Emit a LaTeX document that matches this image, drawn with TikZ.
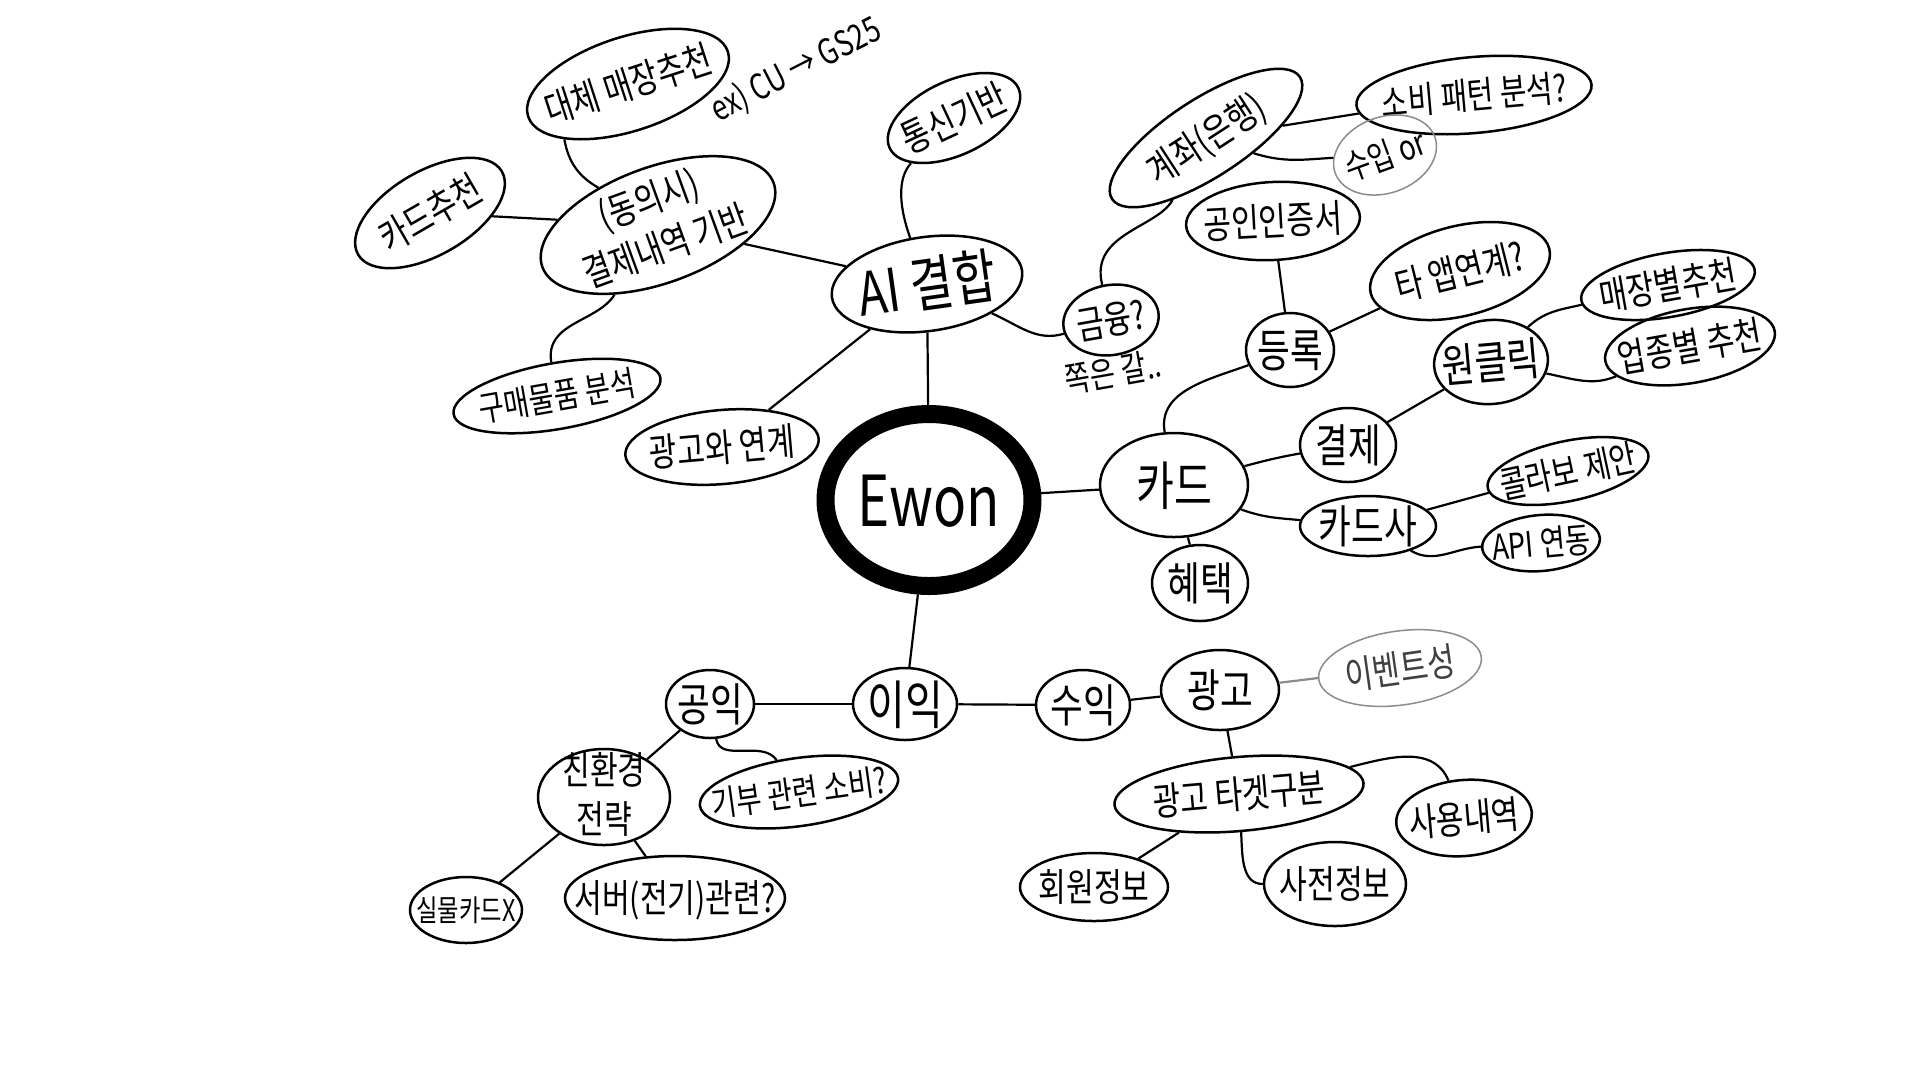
\documentclass[tikz,border=0pt]{standalone}
\usepackage{fontspec}
\newfontfamily\hand[FakeStretch=0.78]{Noto Sans CJK KR}
\usetikzlibrary{shapes.geometric}
% text that does not widen its bubble
\newcommand\inbub[1]{\makebox[0pt]{\raisebox{-.38em}[0pt][0pt]{#1}}}
\newcommand\inbubb[1]{\makebox[0pt]{\raisebox{-.3em}[0pt][0pt]{\begin{tabular}{@{}c@{}}#1\end{tabular}}}}
\tikzset{
  bub/.style  = {draw, ellipse, line width=0.25mm, inner sep=0pt,
                 font=\hand\fontsize{11}{14}\selectfont},
  sz/.style 2 args = {minimum width=#1mm, minimum height=#2mm},
  fs/.style   = {font=\hand\fontsize{#1}{#1}\selectfont},
  pale/.style = {draw=black!45, line width=0.15mm},
  note/.style = {font=\hand\fontsize{10}{10}\selectfont, inner sep=0pt},
  ln/.style   = {line width=0.22mm},
}
\begin{document}
\begin{tikzpicture}[x=0.1mm, y=0.1mm]
\fill[white] (0,0) rectangle (1920,-1080);
\useasboundingbox (0,0) rectangle (1920,-1080);

% centre
\node[bub, line width=1.8mm, sz={20.7}{17.2}, fs=20] (ewon) at (929,-500) {\inbub{Ewon}};

% AI branch
\node[bub, sz={19.2}{9.4}, rotate=8, fs=17] (ai) at (927,-284) {\inbub{AI 결합}};
\node[bub, sz={24.6}{11.6}, rotate=20] (hist) at (658,-225) {\inbubb{(동의시)\\결제내역 기반}};
\node[bub, sz={21}{9.4}, rotate=18] (alt) at (628,-84) {\inbub{대체 매장추천}};
\node[note, rotate=27] (altex) at (796,-70) {ex) CU → GS25};
\node[bub, sz={16.6}{8.4}, rotate=30] (cardrec) at (430,-213) {\inbub{카드추천}};
\node[bub, sz={21}{6.6}, rotate=10, fs=10] (goods) at (557,-396) {\inbub{구매물품 분석}};
\node[bub, sz={19.4}{7.4}, rotate=5] (adlink) at (722,-447) {\inbub{광고와 연계}};
\node[bub, sz={14.2}{7.4}, rotate=25] (telco) at (954,-118) {\inbub{통신기반}};
\node[bub, sz={9.6}{7}, rotate=10] (fin) at (1111,-320) {\inbub{금융?}};
\node[note, rotate=10] (finnote) at (1113,-372) {쪽은 갈..};

% account
\node[bub, sz={22.4}{7.8}, rotate=33] (acct) at (1206,-138) {\inbub{계좌(은행)}};
\node[bub, sz={23.6}{7.6}, rotate=5, fs=10.5] (spend) at (1474,-95) {\inbub{소비 패턴 분석?}};
\node[bub, pale, sz={10.6}{7.6}, rotate=20, fs=10] (income) at (1385,-155) {\inbub{수입 or}};

% card branch
\node[bub, sz={14.8}{10.4}, fs=15] (card) at (1174,-485) {\inbub{카드}};
\node[bub, sz={8.8}{7.4}, fs=13] (reg) at (1290,-350) {\inbub{등록}};
\node[bub, sz={17.4}{7.8}, rotate=3] (cert) at (1273,-221) {\inbub{공인인증서}};
\node[bub, sz={18.4}{9}, rotate=14] (otherapp) at (1460,-271) {\inbub{타 앱연계?}};
\node[bub, sz={9.6}{7.4}, fs=13] (pay) at (1348,-445) {\inbub{결제}};
\node[bub, sz={11.4}{8.4}, rotate=5, fs=13] (oneclick) at (1491,-362) {\inbub{원클릭}};
\node[bub, sz={17.6}{6.4}, rotate=10] (bystore) at (1668,-285) {\inbub{매장별추천}};
\node[bub, sz={17.2}{7.4}, rotate=10] (bytype) at (1690,-346) {\inbub{업종별 추천}};
\node[bub, sz={13.6}{6}, fs=13] (issuer) at (1368,-526) {\inbub{카드사}};
\node[bub, sz={16.4}{6}, rotate=12, fs=10.5] (collab) at (1568,-471) {\inbub{콜라보 제안}};
\node[bub, sz={11.8}{5.6}, rotate=5, fs=10] (api) at (1541,-543) {\inbub{API 연동}};
\node[bub, sz={9.6}{7.6}, fs=13] (perk) at (1200,-583) {\inbub{혜택}};

% profit branch
\node[bub, sz={10.4}{7.2}, fs=15] (gain) at (905,-704) {\inbub{이익}};
\node[bub, sz={8.8}{6.8}, fs=13] (public) at (710,-704) {\inbub{공익}};
\node[bub, sz={9.4}{7}, fs=13] (revenue) at (1083,-705) {\inbub{수익}};
\node[bub, sz={11.8}{8}, fs=13] (ad) at (1220,-690) {\inbub{광고}};
\node[bub, pale, sz={16.4}{7.4}, rotate=8, text=black!75] (event) at (1400,-668) {\inbub{이벤트성}};
\node[bub, sz={25}{7.4}, rotate=5] (target) at (1239,-794) {\inbub{광고 타겟구분}};
\node[bub, sz={13.6}{7.6}, rotate=5] (usage) at (1464,-818) {\inbub{사용내역}};
\node[bub, sz={14.8}{6.8}] (member) at (1094,-887) {\inbub{회원정보}};
\node[bub, sz={14.2}{8.4}] (prior) at (1335,-884) {\inbub{사전정보}};
\node[bub, sz={13.2}{9.6}] (eco) at (604,-797) {\inbubb{친환경\\전략}};
\node[bub, sz={20}{6.8}, rotate=8, fs=10] (donate) at (799,-792) {\inbub{기부 관련 소비?}};
\node[bub, sz={11.2}{6.6}, fs=8.5] (nocard) at (466,-910) {\inbub{실물카드X}};
\node[bub, sz={22}{8.4}] (server) at (675,-898) {\inbub{서버(전기)관련?}};

% connectors
\draw[ln] (ewon) -- (ai);
\draw[ln] (ewon) -- (card);
\draw[ln] (ewon) -- (gain);
\draw[ln] (ai) -- (hist);
\draw[ln] (ai) -- (adlink);
\draw[ln] (telco) to[out=210, in=105] (ai);
\draw[ln] (ai) to[out=-30, in=190] (fin);
\draw[ln] (alt.203) to[bend right=25] (hist.128);
\draw[ln] (hist) -- (cardrec);
\draw[ln] (goods) to[out=95, in=225] (hist);
\draw[ln] (acct) to[out=225, in=100] (fin);
\draw[ln] (acct) -- (spend);
\draw[ln] (acct) to[out=-40, in=170] (income);
\draw[ln] (card) to[out=100, in=200] (reg);
\draw[ln] (reg) -- (cert);
\draw[ln] (reg) -- (otherapp);
\draw[ln] (card) to[out=15, in=190] (pay);
\draw[ln] (pay) -- (oneclick);
\draw[ln] (oneclick) to[out=40, in=185] (bystore);
\draw[ln] (oneclick) to[out=-15, in=195] (bytype);
\draw[ln] (card) to[out=-20, in=175] (issuer);
\draw[ln] (issuer) -- (collab);
\draw[ln] (issuer) to[out=-30, in=180] (api);
\draw[ln] (card) -- (perk);
\draw[ln] (gain) -- (public);
\draw[ln] (gain) -- (revenue);
\draw[ln] (revenue) -- (ad);
\draw[ln, black!45] (ad) -- (event);
\draw[ln] (ad) -- (target);
\draw[ln] (target) -- (member);
\draw[ln] (target) to[out=-90, in=180] (prior);
\draw[ln] (target) to[out=10, in=110] (usage);
\draw[ln] (public) -- (eco);
\draw[ln] (public) to[out=-80, in=120] (donate);
\draw[ln] (eco) -- (nocard);
\draw[ln] (eco) -- (server);
\end{tikzpicture}
\end{document}
